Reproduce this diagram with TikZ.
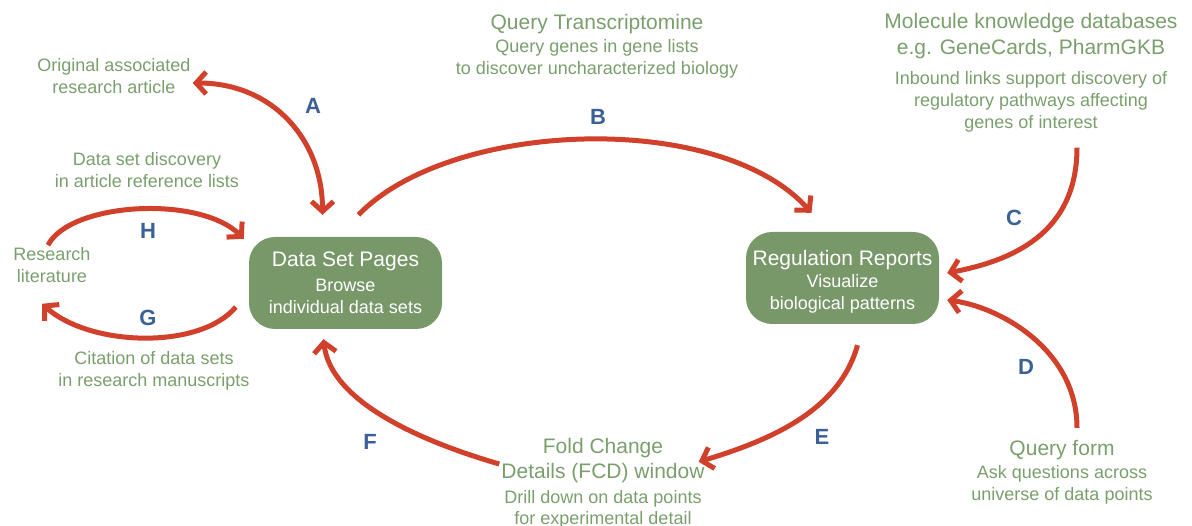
\documentclass[tikz,border=0pt]{standalone}
\usepackage{fontspec}
\setmainfont{Liberation Sans}
\usetikzlibrary{arrows.meta,positioning}
\definecolor{boxgreen}{RGB}{120,152,106}
\definecolor{txtgreen}{RGB}{122,158,108}
\definecolor{arrred}{RGB}{208,64,42}
\definecolor{tagblue}{RGB}{58,96,150}
\newcommand{\hd}{\fontsize{21}{25}\selectfont}

\begin{document}
\begin{tikzpicture}[x=1pt,y=-1pt,
  main/.style = {fill=boxgreen, text=white, rounded corners=26pt, minimum width=193pt, minimum height=92pt, align=center, font=\fontsize{18}{22}\selectfont},
  lbl/.style = {text=txtgreen, align=center, inner sep=2pt, font=\fontsize{18}{22}\selectfont},
  tag/.style = {text=tagblue, font=\fontsize{22}{22}\selectfont\bfseries},
  link/.style = {draw=arrred, line width=5pt, ->},
  >={Straight Barb[length=10pt,width=22pt]},
  node distance={497pt}]
\useasboundingbox (0,0) rectangle (1192,526);
        \node[main] (1) at (345.5,283) {{\hd Data Set Pages}\\[3pt]Browse\\individual data sets};
        \node[main] (2) [right of=1, yshift=5pt, text height=67pt] {{\hd Regulation Reports}\\Visualize\\biological patterns};
        \node[lbl] (3) at (114,76) {Original associated\\research article};
        \node[lbl] (4) at (147,170) {Data set discovery\\in article reference lists};
        \node[lbl] (5) at (52,265) {Research\\literature};
        \node[lbl] (6) at (154,371) {Citation of data sets\\in research manuscripts};
        \node[lbl] (7) at (597,46.5) {{\hd Query Transcriptomine}\\[1pt]Query genes in gene lists\\to discover uncharacterized biology};
        \node[lbl] (8) at (1031,72.5) {{\hd Molecule knowledge databases}\\[4pt]{\hd e.g. GeneCards, PharmGKB}\\[8pt]Inbound links support discovery of\\regulatory pathways affecting\\genes of interest};
        \node[lbl] (9) at (603,483) {{\hd Fold Change}\\[3pt]{\hd Details (FCD) window}\\[3pt]Drill down on data points\\[-1pt]for experimental detail};
        \node[lbl] (10) at (1062,472) {{\hd Query form}\\[1pt]Ask questions across\\universe of data points};
        \node[tag] (a) at (313,106) {A};
        \node[tag] (b) at (598,117) {B};
        \node[tag] (c) at (1014,218) {C};
        \node[tag] (d) at (1026,367) {D};
        \node[tag] (e) at (822,437) {E};
        \node[tag] (f) at (370,442) {F};
        \node[tag] (g) at (148,318) {G};
        \node[tag] (h) at (148,231) {H};
        \draw[link,<->] ([yshift=-7pt]3.east) .. controls +(80,0) and +(0,-75) .. ([xshift=-23pt,yshift=22pt]1.north);
        \draw[link] ([xshift=13pt,yshift=22pt]1.north) .. controls +(92,-95) and +(-92,-103) .. ([xshift=-31pt,yshift=19pt]2.north);
        \draw[link] ([xshift=-4pt]5.north) .. controls +(22,-43) and +(-44,-44) .. ([xshift=-5pt,yshift=-2pt]1.north west);
        \draw[link] ([xshift=-13pt,yshift=-24pt]1.west) .. controls +(-36,43) and +(48,43) .. ([xshift=-10pt,yshift=-19pt]5.south);
        \draw[link] ([xshift=46pt,yshift=-13.5pt]8.south) .. controls +(0,87) and +(63,-12) .. ([xshift=8pt,yshift=5pt]2.east);
        \draw[link] ([xshift=15pt,yshift=10pt]10.north) .. controls +(0,-78) and +(53,7) .. ([xshift=8pt,yshift=-22pt]2.east);
        \draw[link] ([xshift=15pt,yshift=-21pt]2.south) .. controls +(-18,65) and +(73,-22) .. ([xshift=-8pt,yshift=-26pt]9.north east);
        \draw[link] ([yshift=19pt]9.west) .. controls +(-83,-24) and +(7,61) .. ([xshift=-22pt,yshift=-10pt]1.south);
        \end{tikzpicture}
\end{document}
